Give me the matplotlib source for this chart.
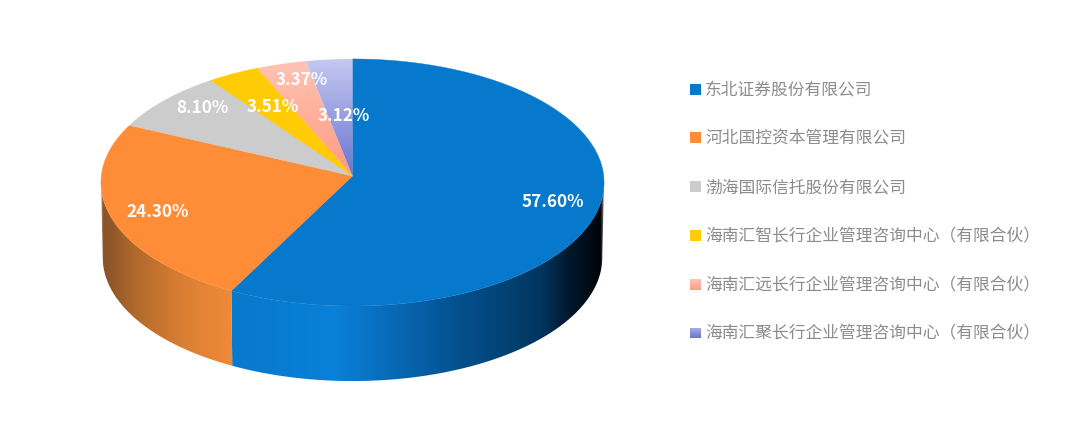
import numpy as np
import matplotlib
matplotlib.use('Agg')
import matplotlib.pyplot as plt
from matplotlib.colors import LinearSegmentedColormap
from matplotlib.patches import Polygon

plt.rcParams['font.family'] = ['Noto Sans CJK SC', 'DejaVu Sans']

# 数据
names = ['东北证券股份有限公司', '河北国控资本管理有限公司', '渤海国际信托股份有限公司',
         '海南汇智长行企业管理咨询中心（有限合伙）', '海南汇远长行企业管理咨询中心（有限合伙）',
         '海南汇聚长行企业管理咨询中心（有限合伙）']
shares = [57.60, 24.30, 8.10, 3.51, 3.37, 3.12]

# 样式
top_colors = ['#0779CD', '#FF8D37', '#CCCCCC', '#FFCB05', None, None]
label_radius = [0.81, 0.82, 0.72, 0.60, 0.85, 0.52]
label_nudge = [(1, 2), (3, 3), (-14, -13), (-7, -6), (10, 0), (4, 2)]

# 椭圆的透视参数（像素）
cx, cy = 352.5, 176
rx, ry, persp = 251.2, 123.2, 0.0526
depth = 75
bottom_scale = 0.993


def project(theta, r=1.0):
    # theta 从正上方顺时针，单位：弧度
    u, v = r * np.sin(theta), r * np.cos(theta)
    d = 1 + persp * v
    return cx + rx * u / d, cy - ry * v / d


def fill_gradient(ax, poly_xy, extent, stops, horizontal=True, zorder=1):
    cmap = LinearSegmentedColormap.from_list('g', stops)
    grad = np.linspace(0, 1, 256)
    grad = grad.reshape(1, -1) if horizontal else grad.reshape(-1, 1)
    im = ax.imshow(grad, cmap=cmap, extent=extent, aspect='auto', zorder=zorder,
                   vmin=0, vmax=1, interpolation='bilinear')
    clip = Polygon(poly_xy, closed=True, transform=ax.transData)
    im.set_clip_path(clip)


fig = plt.figure(figsize=(10.76, 4.24), dpi=100)
ax = fig.add_axes([0, 0, 1, 1])

edges = np.radians(np.concatenate([[0], np.cumsum(shares)]) / np.sum(shares) * 360)

# 侧面：只有前半部分可见，从椭圆最右/最左点开始
front_start = np.arccos(-persp)
front_end = 2 * np.pi - front_start
side_specs = [
    (front_start, edges[1], [(0, '#777777'), (0.006, '#000408'), (0.09, '#00182D'), (0.17, '#003660'),
                             (0.44, '#06579A'), (0.72, '#0A80D8'), (1, '#0779CD')]),
    (edges[1], front_end, [(0, '#F08A38'), (0.35, '#DD8034'), (0.75, '#B0692C'), (0.95, '#8C5428'),
                           (0.985, '#8C5428'), (1, '#C9A888')]),
]
for a, b, stops in side_specs:
    theta = np.linspace(a, b, 500)
    x, y = project(theta)
    bx = cx + (x - cx) * bottom_scale
    by = y + depth
    pts = np.vstack([np.column_stack([x, y]), np.column_stack([bx, by])[::-1]])
    ext = [pts[:, 0].min(), pts[:, 0].max(), pts[:, 1].max(), pts[:, 1].min()]
    stops = [(1 - p, c) for p, c in stops][::-1]
    fill_gradient(ax, pts, ext, stops, zorder=1)

# 顶面
for i in range(len(shares)):
    theta = np.linspace(edges[i], edges[i + 1], 300)
    x, y = project(theta)
    pts = np.vstack([[cx, cy], np.column_stack([x, y])])
    if top_colors[i]:
        ax.add_patch(Polygon(pts, closed=True, fc=top_colors[i], ec=top_colors[i], lw=0.3, zorder=3))
    else:
        stops = ['#FF9A80', '#FFC3B4'] if i == 4 else ['#6A74CC', '#C5C9F2']
        ext = [pts[:, 0].min(), pts[:, 0].max(), pts[:, 1].max(), pts[:, 1].min()]
        fill_gradient(ax, pts, ext, stops[::-1], horizontal=False, zorder=3)

# 百分比标签
for i, val in enumerate(shares):
    mid = (edges[i] + edges[i + 1]) / 2
    lx, ly = project(mid, label_radius[i])
    ax.text(lx + label_nudge[i][0], ly + label_nudge[i][1], f'{val:.2f}%', color='white',
            fontsize=12.3, fontweight='bold', ha='center', va='center', zorder=5)

# 图例
legend_y = np.linspace(89, 333, len(names))
legend_colors = top_colors[:4] + [('#FFC3B4', '#FF9E86'), ('#AEB3EA', '#6A74CC')]
for i, name in enumerate(names):
    y0 = legend_y[i]
    c = legend_colors[i]
    box = [(690, y0 - 5.5), (701, y0 - 5.5), (701, y0 + 5.5), (690, y0 + 5.5)]
    if isinstance(c, tuple):
        fill_gradient(ax, box, [690, 701, y0 + 5.5, y0 - 5.5], list(c), horizontal=False, zorder=3)
    else:
        ax.add_patch(Polygon(box, closed=True, fc=c, ec='none', zorder=3))
    ax.text(705.2, y0 + 1.2, name, color='#8C8C8C', fontsize=12.05, ha='left', va='center', zorder=5)

ax.set_xlim(0, 1076)
ax.set_ylim(424, 0)
ax.axis('off')
fig.savefig('out.png', dpi=100)
